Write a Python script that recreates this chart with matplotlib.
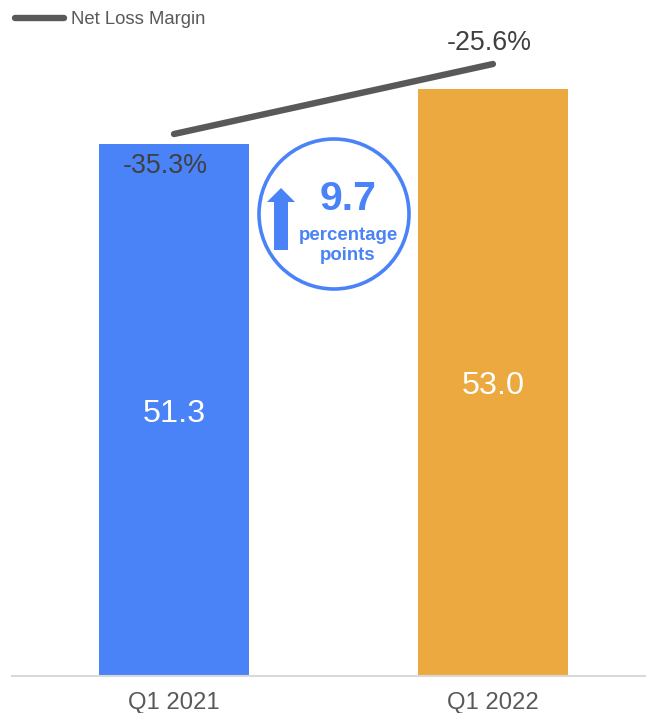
import numpy as np
import matplotlib as mpl
import matplotlib.pyplot as plt
from matplotlib.patches import Circle, FancyArrow

mpl.rcParams['font.family'] = ['Liberation Sans', 'DejaVu Sans']

#Chart values
quarters = ['Q1 2021', 'Q1 2022']
revenue = [51.3, 53.0]
revenue_labels = ['51.3', '53.0']
margin = [-35.3, -25.6]
margin_labels = ['-35.3%', '-25.6%']
bar_colors = ['#4a82f7', '#eca93f']

blue = '#4a82f7'
grey = '#595959'
dark = '#404040'

W, H = 646, 713
fig = plt.figure(figsize=(W/100, H/100), dpi=100)
ax = fig.add_axes([12/W, 37/H, 1 - 12/W, 1 - 37/H])

#Bars on a cut-off axis
pos = np.arange(len(quarters))
ax.bar(pos, revenue, width=0.47, color=bar_colors)
ax.set_xlim(-0.508, 1.48)
ax.set_ylim(34.86, 55.76)
ax.set_xticks(pos, quarters)
ax.set_yticks([])
ax.tick_params(axis='x', length=0, labelsize=17.2, labelcolor=grey, pad=11.8)
for side in ['top', 'right', 'left']:
    ax.spines[side].set_visible(False)
ax.spines['bottom'].set_color('#d9d9d9')
ax.spines['bottom'].set_linewidth(1.5)

ymin = ax.get_ylim()[0]
for p, v, s in zip(pos, revenue, revenue_labels):
    ax.annotate(s, (p, (v + ymin)/2), xytext=(0, -2.5), textcoords='offset points',
                color='white', fontsize=23.3, ha='center', va='center')

#Margin line on its own scale
ax2 = ax.twinx()
ax2.plot(pos, margin, color=grey, lw=4.6, solid_capstyle='round', label='Net Loss Margin')
ax2.set_ylim(-110.4, -16.73)
ax2.set_yticks([])
ax2.patch.set_visible(False)
for side in ax2.spines:
    ax2.spines[side].set_visible(False)

ax2.annotate(margin_labels[0], (pos[0], margin[0]), xytext=(-6, -23), textcoords='offset points',
             color=dark, fontsize=19.3, ha='center', va='center')
ax2.annotate(margin_labels[1], (pos[1], margin[1]), xytext=(-3, 15), textcoords='offset points',
             color=dark, fontsize=19.3, ha='center', va='center')

leg = ax2.legend(loc='upper left', bbox_to_anchor=(3/634, 1 - 11/676), frameon=False, borderpad=0,
                 borderaxespad=0, handlelength=2.66, handletextpad=0.38, fontsize=13.3)
leg.get_texts()[0].set_color(grey)

#Callout drawn in pixel coordinates over the chart
over = fig.add_axes([0, 0, 1, 1])
over.set_xlim(0, W)
over.set_ylim(H, 0)
over.axis('off')
over.add_patch(Circle((334, 214), 75, facecolor='white', edgecolor=blue, lw=2.6))
over.add_patch(FancyArrow(281, 250, 0, -62, width=14, head_width=28, head_length=14,
                          length_includes_head=True, color=blue, lw=0))
over.text(348, 199, '9.7', color=blue, fontsize=29.5, fontweight='bold', ha='center', va='center')
over.text(348, 235, 'percentage', color=blue, fontsize=13.4, fontweight='bold', ha='center', va='center')
over.text(348, 255, 'points', color=blue, fontsize=13.4, fontweight='bold', ha='center', va='center')

fig.savefig('out.png', dpi=100)
